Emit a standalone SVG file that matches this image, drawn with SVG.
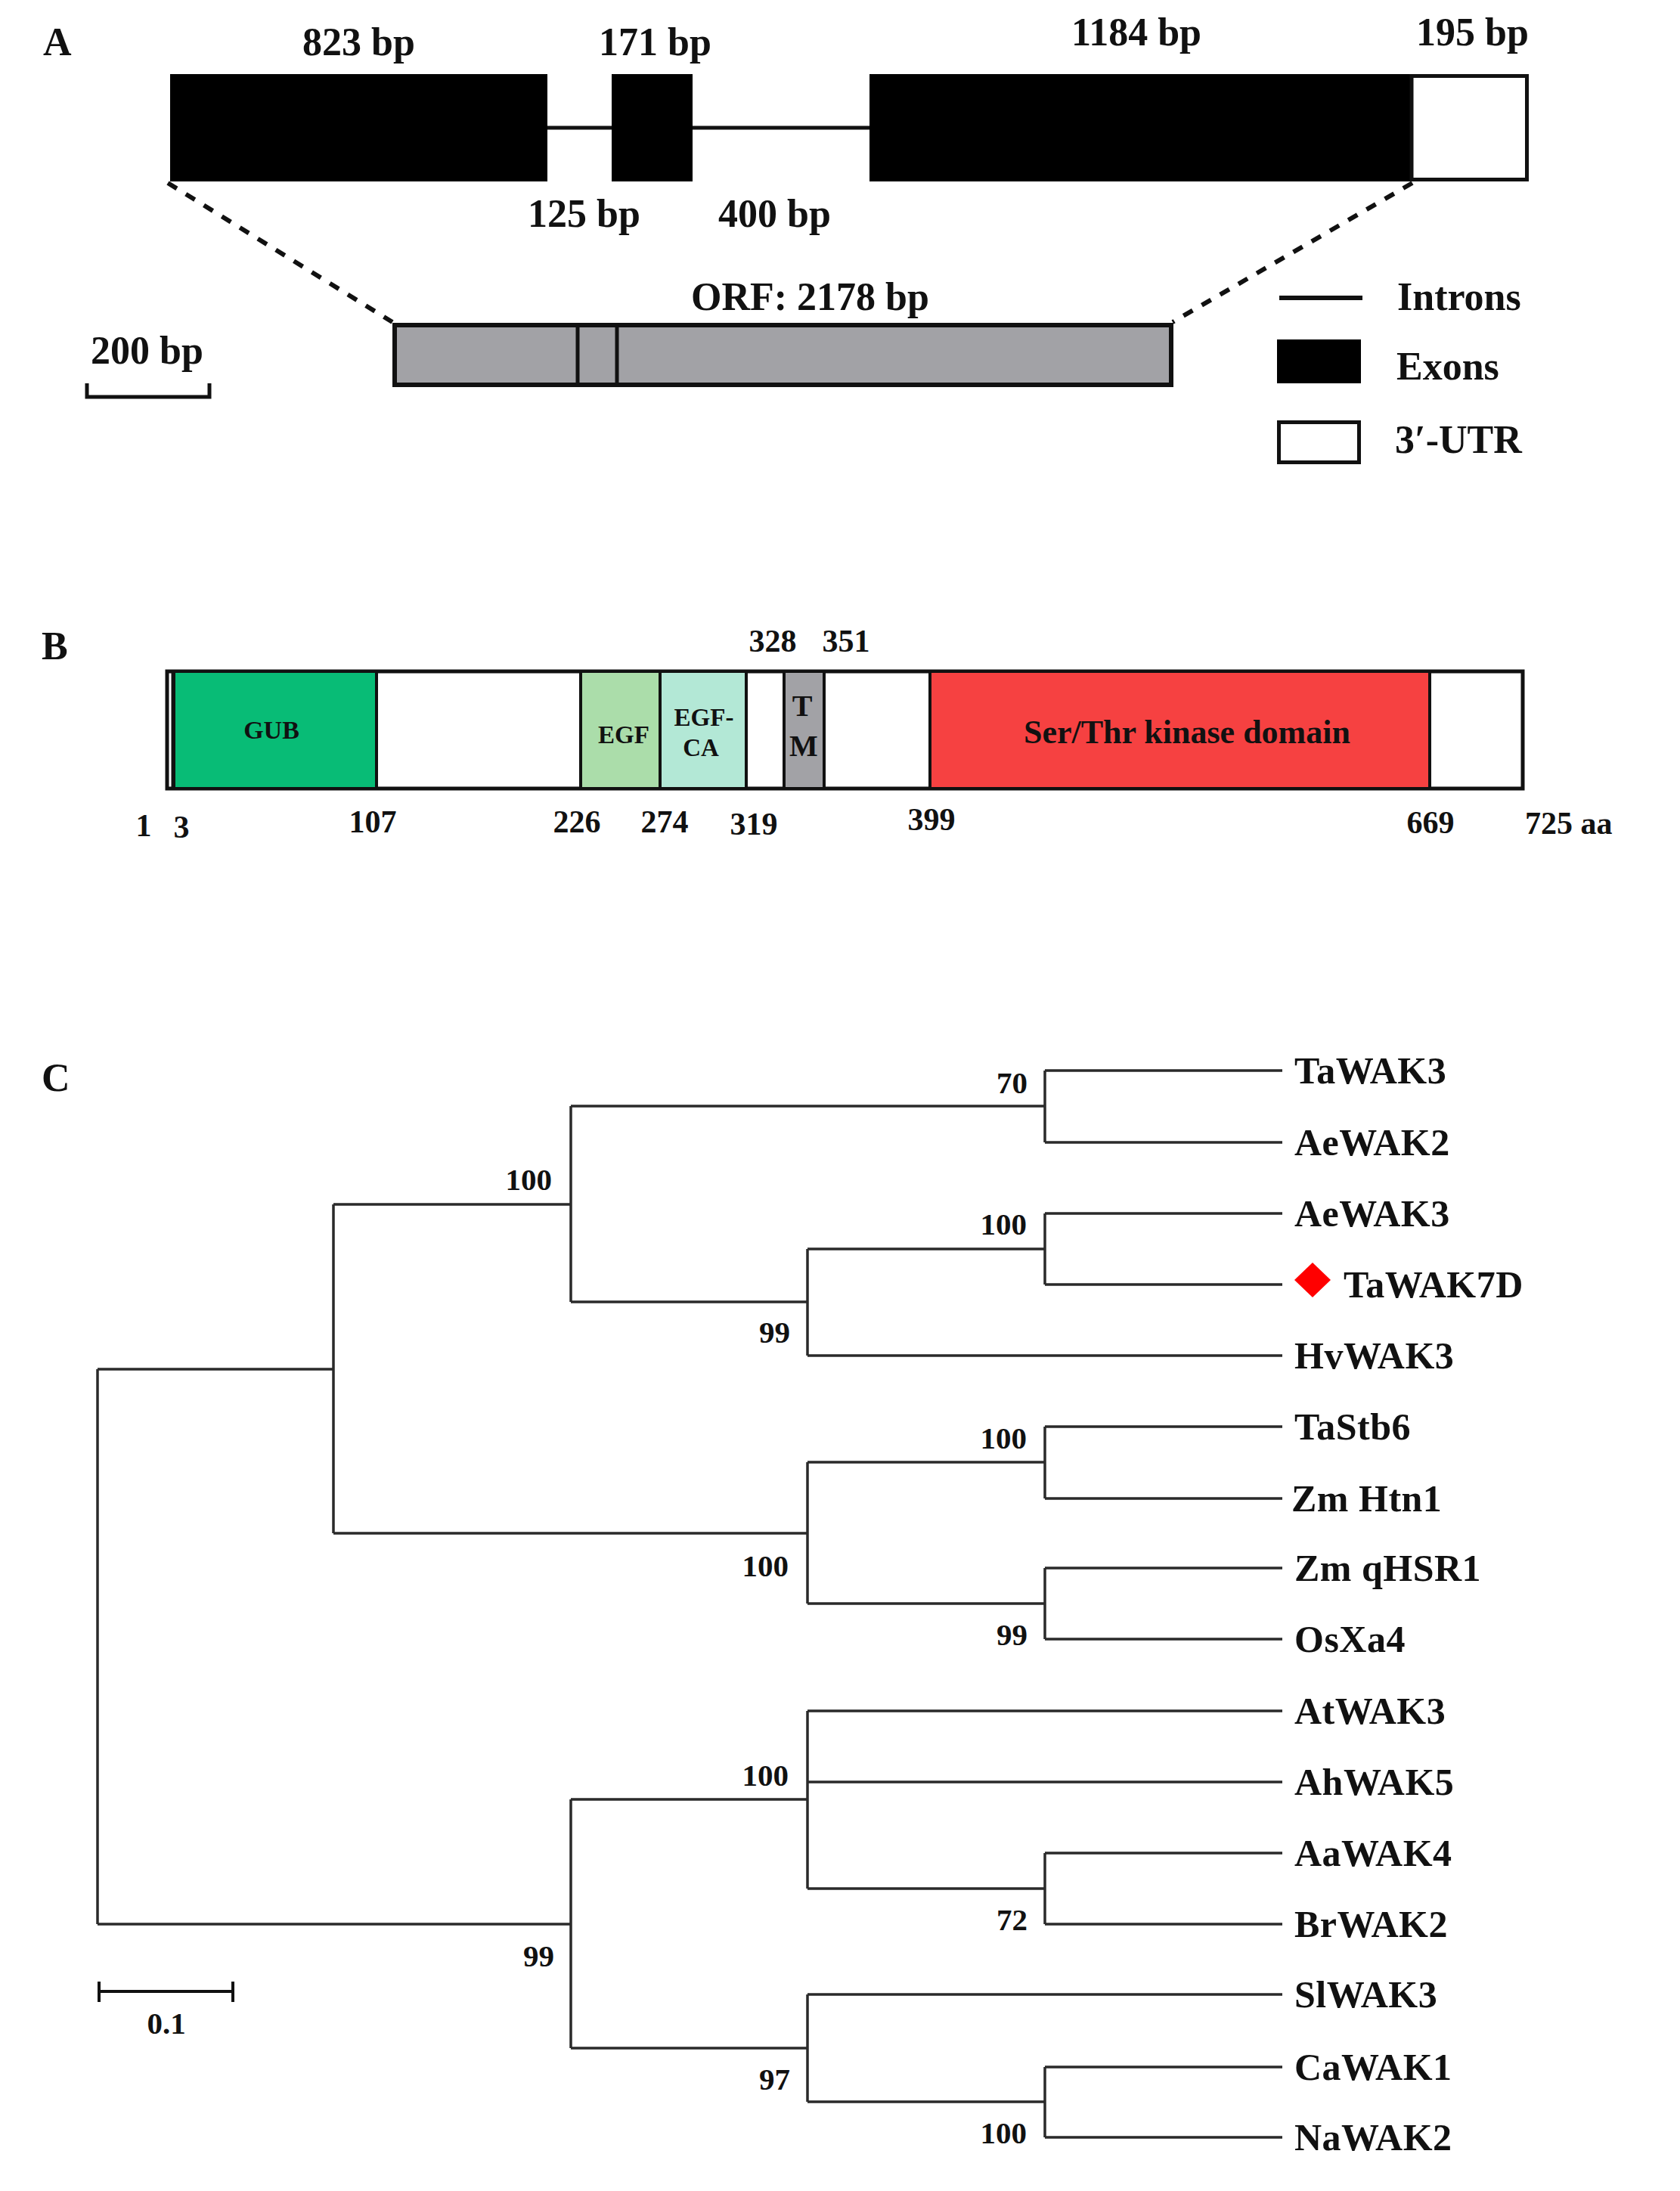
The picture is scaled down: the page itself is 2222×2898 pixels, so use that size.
<svg xmlns="http://www.w3.org/2000/svg" width="2222" height="2898" viewBox="0 0 2222 2898">
<style>
text{font-family:"Liberation Serif","Times New Roman",serif;font-weight:bold;fill:#111}
.t52{font-size:52px}
.t50{font-size:50px;letter-spacing:0.5px}
.t42{font-size:42px}
.t41{font-size:41px}
.dom{stroke:#111;stroke-width:4}
.tree{fill:none;stroke:#2a2a2a;stroke-width:3.5}
.dash{stroke:#111;stroke-width:6;stroke-dasharray:14 14}
</style>
<rect width="2222" height="2898" fill="#fff"/>

<!-- Panel A -->
<g id="panelA">
<text class="t52" x="57" y="73">A</text>
<g id="connectorsA">
<line x1="724" y1="169" x2="1150" y2="169" stroke="#111" stroke-width="5"/>
<line class="dash" x1="222" y1="242" x2="519" y2="426"/>
<line class="dash" x1="1868" y1="242" x2="1551" y2="426"/>
</g>
<g id="exon1"><rect x="225" y="98" width="499" height="142" fill="#000"/><text class="t52" x="400" y="73">823 bp</text></g>
<g id="exon2"><rect x="809" y="98" width="107" height="142" fill="#000"/><text class="t52" x="792" y="73">171 bp</text></g>
<g id="exon3"><rect x="1150" y="98" width="717" height="142" fill="#000"/><text class="t52" x="1417" y="60">1184 bp</text></g>
<g id="utr"><rect x="1867" y="100.5" width="152.5" height="137" fill="#fff" stroke="#111" stroke-width="5"/><text class="t52" x="1873" y="60">195 bp</text></g>
<g id="intron1"><text class="t52" x="698" y="300">125 bp</text></g>
<g id="intron2"><text class="t52" x="950" y="300">400 bp</text></g>
<g id="orf">
<rect x="522" y="430" width="1027" height="79" fill="#A2A2A6" stroke="#111" stroke-width="6"/>
<line x1="764" y1="430" x2="764" y2="509" stroke="#111" stroke-width="5"/>
<line x1="816" y1="430" x2="816" y2="509" stroke="#111" stroke-width="5"/>
<text class="t52" x="914" y="410">ORF: 2178 bp</text>
</g>
<g id="scaleA">
<path d="M115 507 V525 H277 V507" fill="none" stroke="#111" stroke-width="5"/>
<text class="t52" x="120" y="481">200 bp</text>
</g>
<g id="legend">
<line x1="1692" y1="394" x2="1802" y2="394" stroke="#111" stroke-width="6"/>
<text class="t52" x="1848" y="410">Introns</text>
<rect x="1689" y="449" width="111" height="58" fill="#000"/>
<text class="t52" x="1847" y="502">Exons</text>
<rect x="1691.5" y="558.5" width="106" height="53" fill="#fff" stroke="#111" stroke-width="5"/>
<text class="t52" x="1845" y="599">3′-UTR</text>
</g>
</g>

<!-- Panel B -->
<g id="panelB">
<text class="t52" x="55" y="872">B</text>
<rect id="protein" x="221" y="888" width="1793" height="155" fill="#fff" stroke="#111" stroke-width="5"/>
<line x1="228" y1="888" x2="228" y2="1043" stroke="#111" stroke-width="3"/>
<g id="gub"><rect class="dom" x="230" y="888" width="268" height="155" fill="#08BC76"/><text x="359" y="977" font-size="34" text-anchor="middle">GUB</text></g>
<g id="egf"><rect class="dom" x="768" y="888" width="105" height="155" fill="#ABDDAA"/><text x="825" y="983" font-size="33" text-anchor="middle">EGF</text></g>
<g id="egfca"><rect class="dom" x="873" y="888" width="114" height="155" fill="#B3E8D6"/><text x="931" y="960" font-size="33" text-anchor="middle">EGF-</text><text x="927" y="1000" font-size="33" text-anchor="middle">CA</text></g>
<g id="tm"><rect class="dom" x="1037" y="888" width="53" height="155" fill="#A2A2A6"/><text x="1061" y="947" font-size="40" text-anchor="middle">T</text><text x="1063" y="1000" font-size="40" text-anchor="middle">M</text></g>
<g id="kinase"><rect class="dom" x="1230" y="888" width="661" height="155" fill="#F64141"/><text x="1570" y="983" font-size="44" text-anchor="middle">Ser/Thr kinase domain</text></g>
<g id="positions" class="t42">
<text x="1022" y="862" text-anchor="middle">328</text>
<text x="1119" y="862" text-anchor="middle">351</text>
<text x="190" y="1106" text-anchor="middle">1</text>
<text x="240" y="1108" text-anchor="middle">3</text>
<text x="493" y="1101" text-anchor="middle">107</text>
<text x="763" y="1101" text-anchor="middle">226</text>
<text x="879" y="1101" text-anchor="middle">274</text>
<text x="997" y="1104" text-anchor="middle">319</text>
<text x="1232" y="1098" text-anchor="middle">399</text>
<text x="1892" y="1102" text-anchor="middle">669</text>
<text x="2017" y="1103">725 aa</text>
</g>
</g>

<!-- Panel C -->
<g id="panelC">
<text class="t52" x="55" y="1443">C</text>
<g id="connectors" class="tree">
<path d="M129 1811 V2545"/>
<path d="M129 1811 H441 M441 1593 V2028"/>
<path d="M441 1593 H755 M755 1463 V1722"/>
<path d="M755 1463 H1382 M1382 1416 V1511 M1382 1416 H1696 M1382 1511 H1696"/>
<path d="M755 1722 H1068 M1068 1652 V1793"/>
<path d="M1068 1652 H1382 M1382 1605 V1699 M1382 1605 H1696 M1382 1699 H1696"/>
<path d="M1068 1793 H1696"/>
<path d="M441 2028 H1068 M1068 1934 V2121"/>
<path d="M1068 1934 H1382 M1382 1887 V1982 M1382 1887 H1696 M1382 1982 H1696"/>
<path d="M1068 2121 H1382 M1382 2074 V2168 M1382 2074 H1696 M1382 2168 H1696"/>
<path d="M129 2545 H755 M755 2380 V2709"/>
<path d="M755 2380 H1068 M1068 2263 V2498"/>
<path d="M1068 2263 H1696 M1068 2357 H1696"/>
<path d="M1068 2498 H1382 M1382 2451 V2545 M1382 2451 H1696 M1382 2545 H1696"/>
<path d="M755 2709 H1068 M1068 2638 V2780"/>
<path d="M1068 2638 H1696"/>
<path d="M1068 2780 H1382 M1382 2734 V2827 M1382 2734 H1696 M1382 2827 H1696"/>
</g>
<g id="bootstrap" class="t41" text-anchor="end">
<text x="1359" y="1446">70</text>
<text x="1358" y="1633">100</text>
<text x="1045" y="1776">99</text>
<text x="730" y="1574">100</text>
<text x="1358" y="1916">100</text>
<text x="1043" y="2085">100</text>
<text x="1359" y="2176">99</text>
<text x="1043" y="2362">100</text>
<text x="1359" y="2553">72</text>
<text x="733" y="2601">99</text>
<text x="1045" y="2764">97</text>
<text x="1358" y="2835">100</text>
</g>
<g id="leaf-TaWAK3"><text class="t50" x="1712" y="1433">TaWAK3</text></g>
<g id="leaf-AeWAK2"><text class="t50" x="1712" y="1528">AeWAK2</text></g>
<g id="leaf-AeWAK3"><text class="t50" x="1712" y="1622">AeWAK3</text></g>
<g id="leaf-TaWAK7D"><polygon points="1736,1670 1760,1693 1736,1716 1712,1693" fill="#FF0000"/><text class="t50" x="1777" y="1716">TaWAK7D</text></g>
<g id="leaf-HvWAK3"><text class="t50" x="1712" y="1810">HvWAK3</text></g>
<g id="leaf-TaStb6"><text class="t50" x="1712" y="1904">TaStb6</text></g>
<g id="leaf-ZmHtn1"><text class="t50" x="1708" y="1999">Zm Htn1</text></g>
<g id="leaf-ZmqHSR1"><text class="t50" x="1712" y="2091">Zm qHSR1</text></g>
<g id="leaf-OsXa4"><text class="t50" x="1712" y="2185">OsXa4</text></g>
<g id="leaf-AtWAK3"><text class="t50" x="1712" y="2280">AtWAK3</text></g>
<g id="leaf-AhWAK5"><text class="t50" x="1712" y="2374">AhWAK5</text></g>
<g id="leaf-AaWAK4"><text class="t50" x="1712" y="2468">AaWAK4</text></g>
<g id="leaf-BrWAK2"><text class="t50" x="1712" y="2562">BrWAK2</text></g>
<g id="leaf-SlWAK3"><text class="t50" x="1712" y="2655">SlWAK3</text></g>
<g id="leaf-CaWAK1"><text class="t50" x="1712" y="2751">CaWAK1</text></g>
<g id="leaf-NaWAK2"><text class="t50" x="1712" y="2844">NaWAK2</text></g>
<g id="scaleC">
<path d="M131 2634 H308 M131 2621 V2648 M308 2621 V2648" fill="none" stroke="#111" stroke-width="4"/>
<text class="t41" x="220" y="2690" text-anchor="middle">0.1</text>
</g>
</g>
</svg>
